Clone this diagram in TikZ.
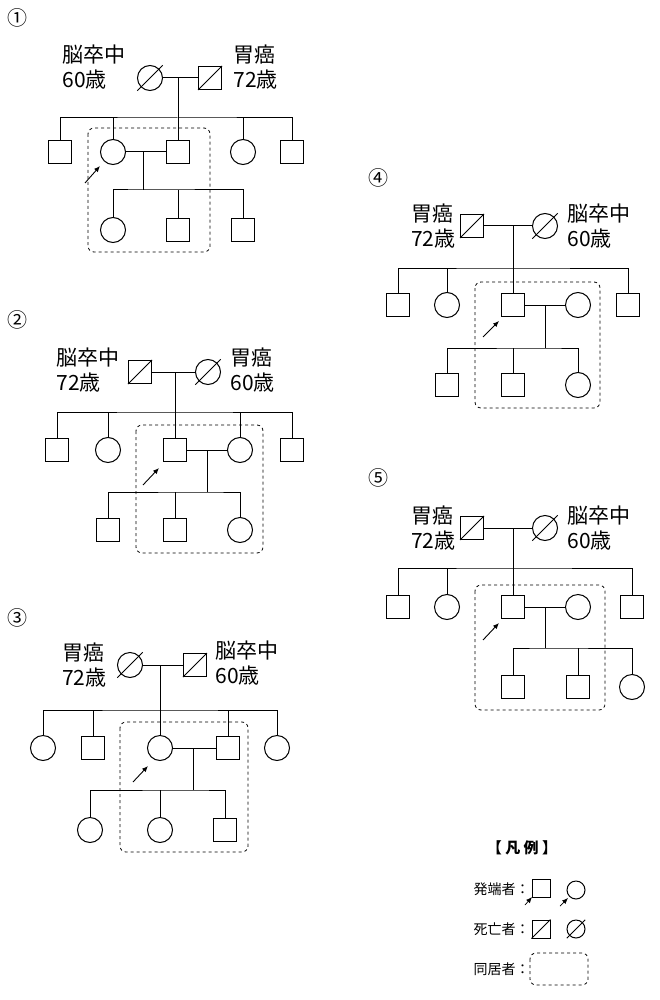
\documentclass[tikz,border=0pt]{standalone}
\usepackage{fontspec}
\setmainfont{Noto Sans CJK JP}
\usetikzlibrary{calc,arrows.meta}
\begin{document}
\begin{tikzpicture}[x=1pt,y=-1pt,line width=1pt,
 sq/.style={draw,minimum size=23pt,inner sep=0pt},
 ci/.style={circle,draw,minimum size=25pt,inner sep=0pt},
 dsq/.style={sq,append after command={\pgfextra{\draw (\tikzlastnode.south west)--(\tikzlastnode.north east);}}},
 dci/.style={ci,append after command={\pgfextra{\draw ($(\tikzlastnode.center)+(135:18)$)--($(\tikzlastnode.center)+(-45:18)$);}}},
 lab/.style={font=\fontsize{21}{25}\selectfont,align=left,inner sep=0pt},
 num/.style={font=\fontsize{20}{22}\selectfont,inner sep=0pt},
 box/.style={draw,dashed,line width=0.8pt,rounded corners=6pt},
 arr/.style={-{Latex[length=6pt,width=5pt]},line width=0.9pt}]
\useasboundingbox (0,0) rectangle (660,1000);
% ---------- 1
\node[num] (n1) at (18,18) {①};
\node[dci] (A1) at (150,78) {};
\node[dsq] (B1) at (210,78) {};
\node[lab,anchor=east] (L1) at (126,67) {脳卒中\\60歳};
\node[lab,anchor=west] (R1) at (233,67) {胃癌\\72歳};
\draw (A1.east)--(B1.west);
\node[sq] (c11) at (60,152) {};
\node[ci] (c12) at (113,152) {};
\node[sq] (c13) at (178,152) {};
\node[ci] (c14) at (243,152) {};
\node[sq] (c15) at (292,152) {};
\coordinate (b1) at (178,118);
\draw (c13.north) -- (178,78);
\draw (c11.north) |- (b1) -| (c15.north);
\draw (c12.north)--(c12.north|-b1) (c14.north)--(c14.north|-b1);
\draw (c12.east)--(c13.west);
\node[ci] (g11) at (113,230) {};
\node[sq] (g12) at (178,230) {};
\node[sq] (g13) at (243,230) {};
\coordinate (e1) at (143,190);
\draw (143,152)--(e1);
\draw (g11.north) |- (e1) -| (g13.north);
\draw (g12.north)--(g12.north|-e1);
\draw[box] (88,128) rectangle (210,252);
\draw[arr] (85,183)--(100,166);
% ---------- 2
\node[num] (n2) at (18,320) {②};
\node[dsq] (A2) at (140,372) {};
\node[dci] (B2) at (208,372) {};
\node[lab,anchor=east] (L2) at (120,370) {脳卒中\\72歳};
\node[lab,anchor=west] (R2) at (230,370) {胃癌\\60歳};
\draw (A2.east)--(B2.west);
\node[sq] (c21) at (57,450) {};
\node[ci] (c22) at (108,450) {};
\node[sq] (c23) at (175,450) {};
\node[ci] (c24) at (240,450) {};
\node[sq] (c25) at (292,450) {};
\coordinate (b2) at (175,412);
\draw (c23.north)--(175,372);
\draw (c21.north) |- (b2) -| (c25.north);
\draw (c22.north)--(c22.north|-b2) (c24.north)--(c24.north|-b2);
\draw (c23.east)--(c24.west);
\node[sq] (g21) at (108,530) {};
\node[sq] (g22) at (175,530) {};
\node[ci] (g23) at (240,530) {};
\coordinate (e2) at (207,492);
\draw (207,450)--(e2);
\draw (g21.north) |- (e2) -| (g23.north);
\draw (g22.north)--(g22.north|-e2);
\draw[box] (136,425) rectangle (263,553);
\draw[arr] (143,485)--(159,468);
% ---------- 3
\node[num] (n3) at (18,618) {③};
\node[dci] (A3) at (130,665) {};
\node[dsq] (B3) at (195,665) {};
\node[lab,anchor=east] (L3) at (107,665) {胃癌\\72歳};
\node[lab,anchor=west] (R3) at (215,663) {脳卒中\\60歳};
\draw (A3.east)--(B3.west);
\node[ci] (c31) at (43,748) {};
\node[sq] (c32) at (93,748) {};
\node[ci] (c33) at (160,748) {};
\node[sq] (c34) at (228,748) {};
\node[ci] (c35) at (277,748) {};
\coordinate (b3) at (160,710);
\draw (c33.north)--(160,665);
\draw (c31.north) |- (b3) -| (c35.north);
\draw (c32.north)--(c32.north|-b3) (c34.north)--(c34.north|-b3);
\draw (c33.east)--(c34.west);
\node[ci] (g31) at (90,830) {};
\node[ci] (g32) at (160,830) {};
\node[sq] (g33) at (225,830) {};
\coordinate (e3) at (193,790);
\draw (193,748)--(e3);
\draw (g31.north) |- (e3) -| (g33.north);
\draw (g32.north)--(g32.north|-e3);
\draw[box] (120,722) rectangle (248,852);
\draw[arr] (133,782)--(148,766);
% ---------- 4
\node[num] (n4) at (378,178) {④};
\node[dsq] (A4) at (472,226) {};
\node[dci] (B4) at (545,226) {};
\node[lab,anchor=east] (L4) at (456,226) {胃癌\\72歳};
\node[lab,anchor=west] (R4) at (567,226) {脳卒中\\60歳};
\draw (A4.east)--(B4.west);
\node[sq] (c41) at (398,305) {};
\node[ci] (c42) at (447,305) {};
\node[sq] (c43) at (513,305) {};
\node[ci] (c44) at (578,305) {};
\node[sq] (c45) at (628,305) {};
\coordinate (b4) at (513,268);
\draw (c43.north)--(513,226);
\draw (c41.north) |- (b4) -| (c45.north);
\draw (c42.north)--(c42.north|-b4);
\draw (c43.east)--(c44.west);
\node[sq] (g41) at (447,385) {};
\node[sq] (g42) at (513,385) {};
\node[ci] (g43) at (578,385) {};
\coordinate (e4) at (545,348);
\draw (545,305)--(e4);
\draw (g41.north) |- (e4) -| (g43.north);
\draw (g42.north)--(g42.north|-e4);
\draw[box] (475,282) rectangle (600,408);
\draw[arr] (483,337)--(499,321);
% ---------- 5
\node[num] (n5) at (378,478) {⑤};
\node[dsq] (A5) at (472,528) {};
\node[dci] (B5) at (545,528) {};
\node[lab,anchor=east] (L5) at (456,528) {胃癌\\72歳};
\node[lab,anchor=west] (R5) at (567,528) {脳卒中\\60歳};
\draw (A5.east)--(B5.west);
\node[sq] (c51) at (398,607) {};
\node[ci] (c52) at (447,607) {};
\node[sq] (c53) at (513,607) {};
\node[ci] (c54) at (578,607) {};
\node[sq] (c55) at (632,607) {};
\coordinate (b5) at (513,568);
\draw (c53.north)--(513,528);
\draw (c51.north) |- (b5) -| (c55.north);
\draw (c52.north)--(c52.north|-b5);
\draw (c53.east)--(c54.west);
\node[sq] (g51) at (513,687) {};
\node[sq] (g52) at (578,687) {};
\node[ci] (g53) at (632,687) {};
\coordinate (e5) at (545,648);
\draw (545,607)--(e5);
\draw (g51.north) |- (e5) -| (g53.north);
\draw (g52.north)--(g52.north|-e5);
\draw[box] (475,585) rectangle (605,710);
\draw[arr] (483,640)--(499,623);
% ---------- legend
\tikzset{sl/.style={font=\fontsize{14}{16}\selectfont,inner sep=0pt}}
\node[sl,font=\bfseries\fontsize{15}{17}\selectfont] (lg) at (522,848) {【 凡 例 】};
\node[sl,anchor=east] (t1) at (530,889) {発端者：};
\node[sl,anchor=east] (t2) at (530,929) {死亡者：};
\node[sl,anchor=east] (t3) at (530,969) {同居者：};
\node[draw,minimum size=18pt,inner sep=0pt] (ls) at (541,888) {};
\node[circle,draw,minimum size=18pt,inner sep=0pt] (lc) at (576,890) {};
\draw[arr,line width=0.7pt] (525,905)--(532,897);
\draw[arr,line width=0.7pt] (560,906)--(568,898);
\node[draw,minimum size=18pt,inner sep=0pt] (ls2) at (541,929) {};
\draw (ls2.south west)--(ls2.north east);
\node[circle,draw,minimum size=18pt,inner sep=0pt] (lc2) at (576,929) {};
\draw ($(lc2.center)+(135:13)$)--($(lc2.center)+(-45:13)$);
\draw[box] (530,953) rectangle (588,985);
\end{tikzpicture}
\end{document}
